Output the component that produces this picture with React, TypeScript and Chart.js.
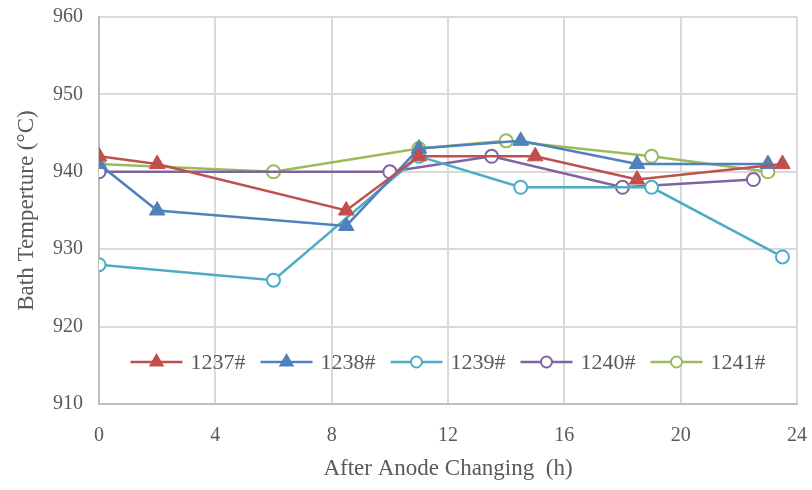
import React, { useEffect, useRef } from "react";
import { Chart, registerables } from "chart.js";

Chart.register(...registerables);

const seriesNames = ["1237#", "1238#", "1239#", "1240#", "1241#"];
const seriesColors = ["#C0504D", "#4F81BD", "#4BACC6", "#8064A2", "#9BBB59"];
const seriesMarkers = ["triangle", "triangle", "circle", "circle", "circle"];

const hours1237 = [0, 2, 8.5, 11, 15, 18.5, 23.5];
const temps1237 = [942, 941, 935, 942, 942, 939, 941];

const hours1238 = [0, 2, 8.5, 11, 14.5, 18.5, 23];
const temps1238 = [941, 935, 933, 943, 944, 941, 941];

const hours1239 = [0, 6, 11, 14.5, 19, 23.5];
const temps1239 = [928, 926, 942, 938, 938, 929];

const hours1240 = [0, 10, 13.5, 18, 22.5];
const temps1240 = [940, 940, 942, 938, 939];

const hours1241 = [0, 6, 11, 14, 19, 23];
const temps1241 = [941, 940, 943, 944, 942, 940];

const allHours = [hours1237, hours1238, hours1239, hours1240, hours1241];
const allTemps = [temps1237, temps1238, temps1239, temps1240, temps1241];

const xMin = 0;
const xMax = 24;
const xStep = 4;
const yMin = 910;
const yMax = 960;
const yStep = 10;

const xTitle = "After Anode Changing  (h)";
const yTitle = "Bath Temperture (\u00B0C)";

const FONT = "'Liberation Serif', 'Times New Roman', serif";
const TEXT = "#595959";

const TRI_R = 9;
const CIRC_R = 6.5;

const legendPlugin = {
  id: "innerLegend",
  afterDraw(chart: any) {
    const ctx = chart.ctx;
    const area = chart.chartArea;
    ctx.save();
    ctx.font = `22px ${FONT}`;
    const lineLen = 52;
    const gap = 8;
    const itemGap = 15;
    const widths = seriesNames.map((n) => ctx.measureText(n).width);
    let total = 0;
    widths.forEach((w, i) => {
      total += lineLen + gap + w + (i < widths.length - 1 ? itemGap : 0);
    });
    let x = (area.left + area.right) / 2 - total / 2;
    const y = area.bottom - 42;
    seriesNames.forEach((name, i) => {
      ctx.strokeStyle = seriesColors[i];
      ctx.lineWidth = 2.5;
      ctx.beginPath();
      ctx.moveTo(x, y);
      ctx.lineTo(x + lineLen, y);
      ctx.stroke();
      const cx = x + lineLen / 2;
      if (seriesMarkers[i] === "triangle") {
        const r = TRI_R;
        const side = (3 * r) / Math.sqrt(3);
        const h = (side * Math.sqrt(3)) / 2;
        ctx.fillStyle = seriesColors[i];
        ctx.beginPath();
        ctx.moveTo(cx, y - (2 * h) / 3);
        ctx.lineTo(cx + side / 2, y + h / 3);
        ctx.lineTo(cx - side / 2, y + h / 3);
        ctx.closePath();
        ctx.fill();
      } else {
        ctx.fillStyle = "#ffffff";
        ctx.lineWidth = 2;
        ctx.beginPath();
        ctx.arc(cx, y, CIRC_R - 1, 0, Math.PI * 2);
        ctx.fill();
        ctx.stroke();
      }
      ctx.fillStyle = TEXT;
      ctx.textAlign = "left";
      ctx.textBaseline = "middle";
      ctx.fillText(name, x + lineLen + gap, y + 1);
      x += lineLen + gap + widths[i] + itemGap;
    });
    ctx.restore();
  },
};

export default function App() {
  const canvasRef = useRef<HTMLCanvasElement | null>(null);

  useEffect(() => {
    const canvas = canvasRef.current;
    if (!canvas) return;
    const datasets = seriesNames.map((name, i) => {
      const tri = seriesMarkers[i] === "triangle";
      return {
        label: name,
        data: allHours[i].map((h, j) => ({ x: h, y: allTemps[i][j] })),
        borderColor: seriesColors[i],
        backgroundColor: seriesColors[i],
        borderWidth: 2.5,
        pointStyle: seriesMarkers[i],
        pointRadius: tri ? TRI_R : CIRC_R,
        pointBorderWidth: tri ? 1 : 2,
        pointBackgroundColor: tri ? seriesColors[i] : "#ffffff",
        pointBorderColor: seriesColors[i],
        tension: 0,
        fill: false,
      };
    });
    const chart = new Chart(canvas, {
      type: "line",
      data: { datasets },
      plugins: [legendPlugin],
      options: {
        animation: false,
        responsive: false,
        maintainAspectRatio: false,
        layout: { padding: { top: 17, right: 15, left: 0, bottom: 0 } },
        plugins: {
          legend: { display: false },
          tooltip: { enabled: false },
        },
        scales: {
          x: {
            type: "linear",
            min: xMin,
            max: xMax,
            afterFit: (scale: any) => {
              scale.height = 86;
              scale.paddingLeft = 0;
              scale.paddingRight = 0;
            },
            ticks: {
              stepSize: xStep,
              padding: 20,
              color: TEXT,
              font: { family: FONT, size: 20 },
              maxRotation: 0,
            },
            grid: { color: "#d9d9d9", lineWidth: 2, drawTicks: false },
            border: { color: "#bfbfbf", width: 2 },
            title: {
              display: true,
              text: xTitle,
              color: TEXT,
              font: { family: FONT, size: 23 },
              padding: { top: 0, bottom: 7 },
            },
          },
          y: {
            type: "linear",
            min: yMin,
            max: yMax,
            afterFit: (scale: any) => {
              scale.width = 99;
              scale.paddingTop = 0;
              scale.paddingBottom = 0;
            },
            ticks: {
              stepSize: yStep,
              padding: 16,
              color: TEXT,
              font: { family: FONT, size: 20 },
            },
            grid: { color: "#d9d9d9", lineWidth: 2, drawTicks: false },
            border: { color: "#bfbfbf", width: 2 },
            title: {
              display: true,
              text: yTitle,
              color: TEXT,
              font: { family: FONT, size: 23 },
              padding: { top: 13, bottom: 0 },
            },
          },
        },
      },
    } as any);
    return () => chart.destroy();
  }, []);

  return (
    <div style={{ position: "absolute", left: 0, top: 0, width: 812, height: 490, background: "#ffffff" }}>
      <canvas ref={canvasRef} width={812} height={490} style={{ width: 812, height: 490, display: "block" }} />
    </div>
  );
}
